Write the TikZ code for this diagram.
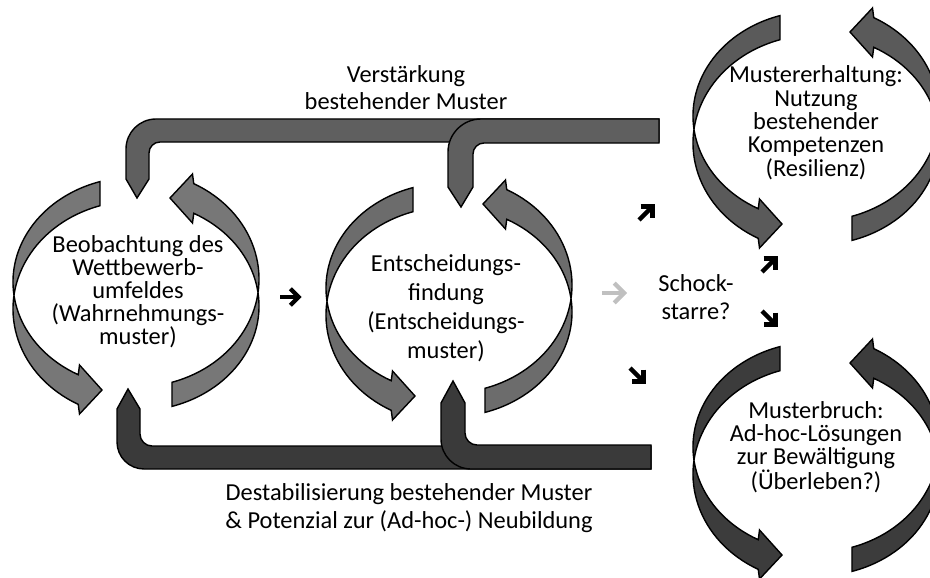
\documentclass[tikz,border=0pt]{standalone}
\usepackage{fontspec}
\setmainfont{Carlito}
\definecolor{cyc}{HTML}{777777}
\definecolor{cycb}{HTML}{6C6C6C}
\definecolor{cycc}{HTML}{5A5A5A}
\definecolor{cycd}{HTML}{3C3C3C}
\definecolor{topbar}{HTML}{5F5F5F}
\definecolor{botbar}{HTML}{3A3A3A}
\definecolor{lightarr}{HTML}{C0C0C0}
\tikzset{
  outl/.style={draw=black, line width=1.4pt, line join=miter},
  lbl/.style={anchor=base, inner sep=0pt}
}
\newcommand\txtblock[2]{\parbox[t]{520pt}{\centering\fontsize{24.4}{#1}\selectfont #2}}
% one circular arrow pair around centre (#1,#2) with fill #3
\newcommand\cycpair[3]{%
  \foreach \rr in {0,180}{%
    \begin{scope}[shift={(#1,#2)}, rotate=\rr]
      \filldraw[outl, fill=#3] (-35.96,-112.41)
        arc[start angle=253, end angle=118, x radius=123, y radius=105]
        -- (-56.5,71) -- (-34,96) -- (-56.5,120) -- (-57.74,110.36)
        arc[start angle=118, end angle=253, x radius=123, y radius=108]
        -- cycle;
    \end{scope}}}
% small bold arrow: x, y, angle, colour, scale, line width
\newcommand\smarr[6]{%
  \begin{scope}[shift={(#1,#2)}, rotate=#3, scale=#5]
    \draw[#4, line width=#6] (-9,0) -- (5,0);
    \draw[#4, line width=#6, line join=miter] (-0.5,-6.8) -- (6.3,0) -- (-0.5,6.8);
  \end{scope}}
\begin{document}
\begin{tikzpicture}[x=1pt,y=-1pt]
\useasboundingbox (0,0) rectangle (930,578);
\fill[white] (0,0) rectangle (930,578);
\clip (0,0) rectangle (930,578);

% cycles
\cycpair{136}{294}{cyc}
\cycpair{449}{300}{cycb}
\cycpair{816}{128}{cycc}
\cycpair{816}{459}{cycd}

% top bent arrows
\filldraw[outl, fill=topbar] (137,198) -- (126,179) -- (126,149)
  .. controls (126,132.4) and (139.4,119) .. (156,119) -- (659,119) -- (659,142)
  -- (160,142) .. controls (153.9,142) and (149,146.9) .. (149,153) -- (149,179) -- cycle;
\filldraw[outl, fill=topbar] (461,207) -- (448,187) -- (448,152)
  .. controls (448,133.8) and (462.8,119) .. (481,119) -- (659,119) -- (659,143)
  -- (484,143) .. controls (477.9,143) and (473,147.9) .. (473,154) -- (473,187) -- cycle;

% bottom bent arrows
\filldraw[outl, fill=botbar] (128,389) -- (140,409) -- (140,434)
  .. controls (140,440.6) and (145.4,446) .. (152,446) -- (651,446) -- (651,469)
  -- (144,469) .. controls (129.1,469) and (117,456.9) .. (117,442) -- (117,409) -- cycle;
\filldraw[outl, fill=botbar] (453,381) -- (465,403) -- (465,433)
  .. controls (465,439.6) and (470.4,445) .. (477,445) -- (651,445) -- (651,469)
  -- (471,469) .. controls (454.4,469) and (441,455.6) .. (441,439) -- (441,403) -- cycle;

% small arrows
\smarr{291}{297}{0}{black}{1.2}{4.2pt}
\smarr{615}{293}{0}{lightarr}{1.45}{4.2pt}
\smarr{647}{212}{45}{black}{1.25}{4.4pt}
\smarr{770}{264}{45}{black}{1.25}{4.4pt}
\smarr{770}{319}{-45}{black}{1.25}{4.4pt}
\smarr{638}{376}{-45}{black}{1.25}{4.4pt}

% texts
\node[lbl] (beob) at (138,252) {\txtblock{23.2}{Beobachtung des\\Wettbewerb-\\umfeldes\\(Wahrnehmungs-\\muster)}};
\node[lbl] (ents) at (446,271) {\txtblock{29}{Entscheidungs-\\findung\\(Entscheidungs-\\muster)}};
\node[lbl] (erh) at (816,83) {\txtblock{23.3}{Mustererhaltung:\\Nutzung\\bestehender\\Kompetenzen\\(Resilienz)}};
\node[lbl] (bruch) at (816,418) {\txtblock{23.3}{Musterbruch:\\Ad-hoc-Lösungen\\zur Bewältigung\\(Überleben?)}};
\node[lbl] (schock) at (696,291) {\txtblock{28}{Schock-\\starre?}};
\node[lbl] (verst) at (406,83) {\txtblock{27}{Verstärkung\\bestehender Muster}};
\node[lbl] (destab) at (409,500) {\txtblock{28}{Destabilisierung bestehender Muster\\\& Potenzial zur (Ad-hoc-) Neubildung}};
\end{tikzpicture}
\end{document}
